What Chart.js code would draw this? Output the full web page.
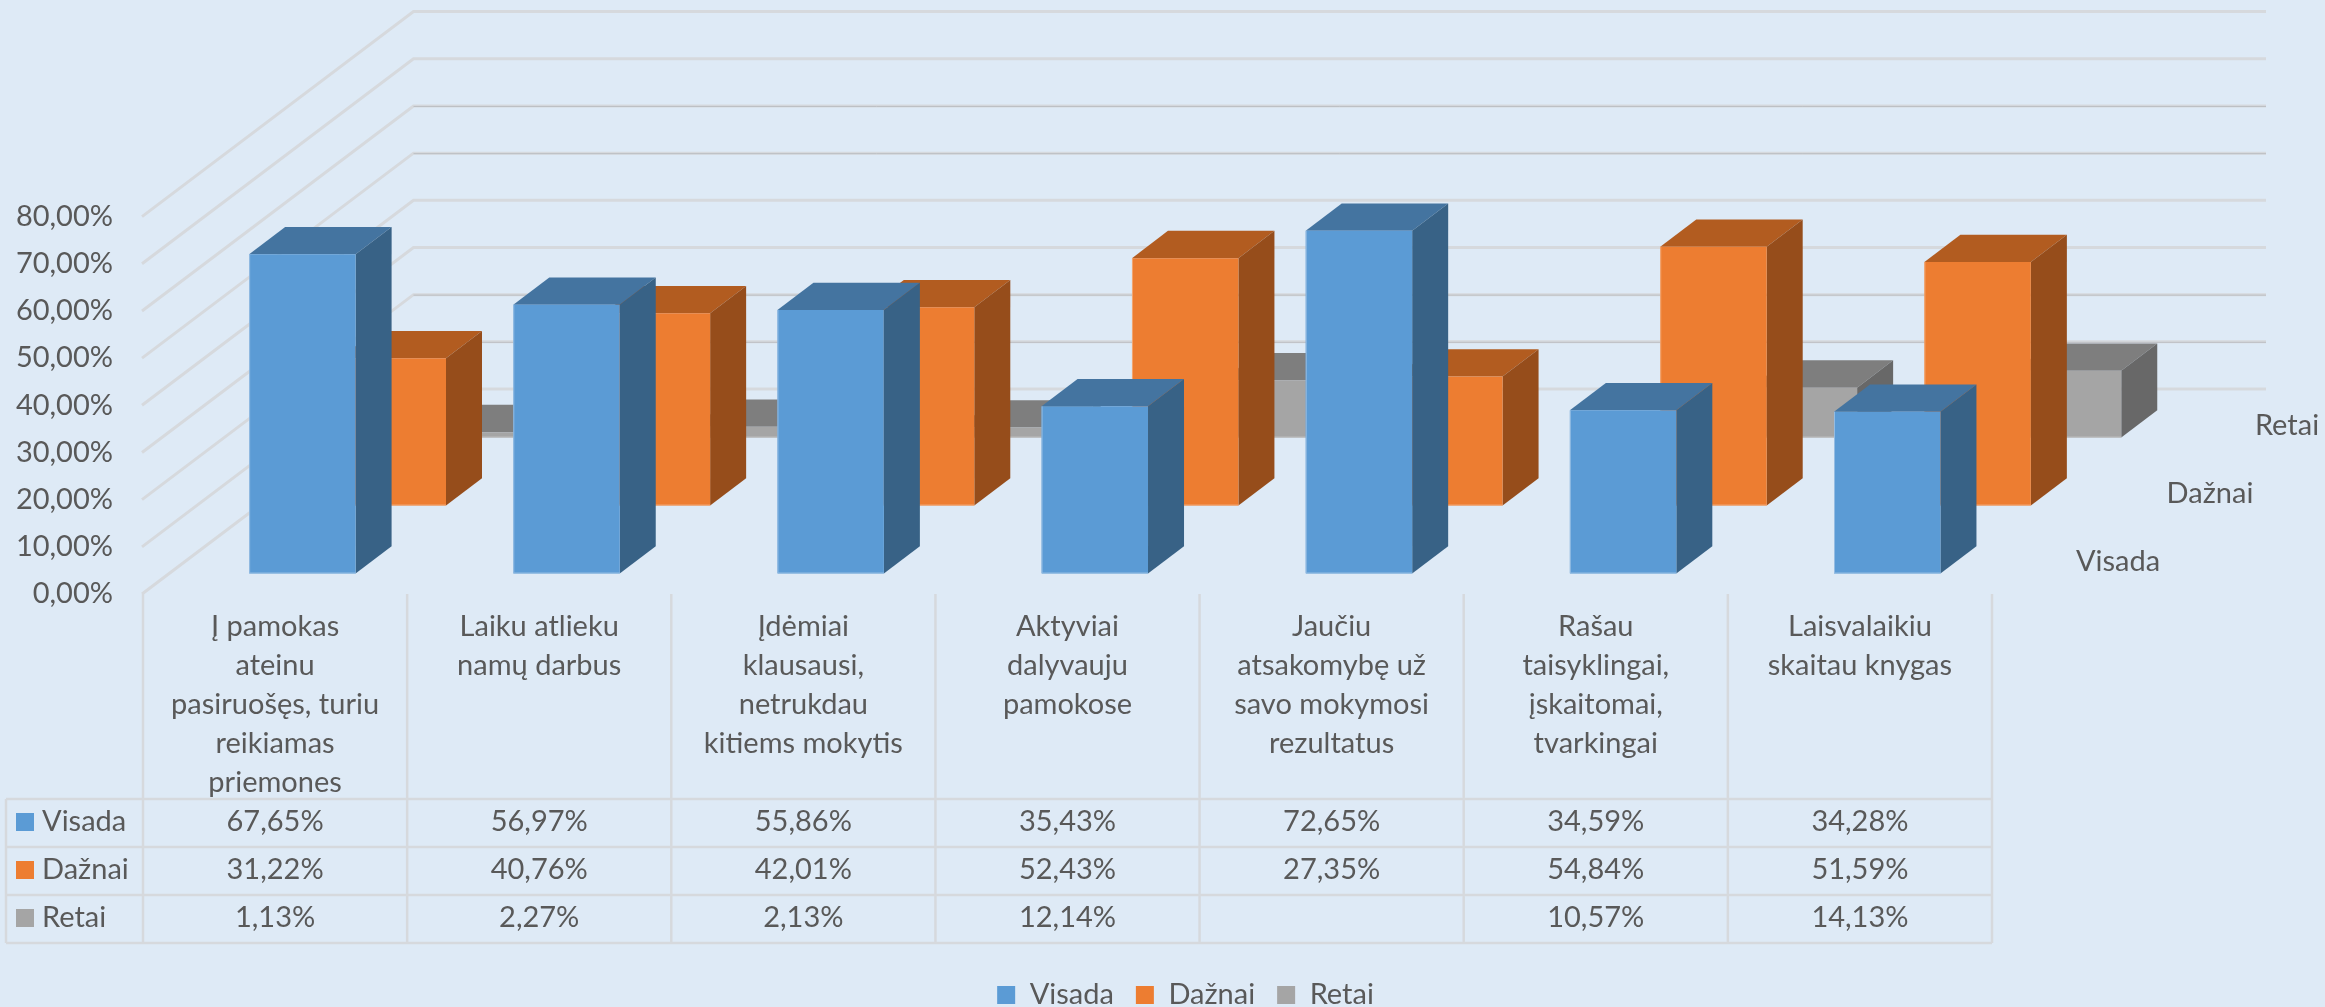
<!DOCTYPE html>
<html lang="lt">
<head>
<meta charset="utf-8">
<title>3D stulpelinė diagrama</title>
<style>
  html, body { margin: 0; padding: 0; background: #deeaf6; }
  canvas { display: block; }
</style>
</head>
<body>
<canvas id="grafikas" width="2325" height="1007"></canvas>
<script src="https://cdn.jsdelivr.net/npm/chart.js@4"></script>
<script>
// Duomenys
const kategorijos = [
  ["Į pamokas", "ateinu", "pasiruošęs, turiu", "reikiamas", "priemones"],
  ["Laiku atlieku", "namų darbus"],
  ["Įdėmiai", "klausausi,", "netrukdau", "kitiems mokytis"],
  ["Aktyviai", "dalyvauju", "pamokose"],
  ["Jaučiu", "atsakomybę už", "savo mokymosi", "rezultatus"],
  ["Rašau", "taisyklingai,", "įskaitomai,", "tvarkingai"],
  ["Laisvalaikiu", "skaitau knygas"]
];
const visada = [67.65, 56.97, 55.86, 35.43, 72.65, 34.59, 34.28];
const daznai = [31.22, 40.76, 42.01, 52.43, 27.35, 54.84, 51.59];
const retai = [1.13, 2.27, 2.13, 12.14, null, 10.57, 14.13];

const serijos = ["Visada", "Dažnai", "Retai"];
const reiksmes = [visada, daznai, retai];

// Spalvos: priekis, viršus, šonas, šviesesnis kraštas
const spalvos = [
  { priekis: "#5b9bd5", virsus: "#4474a0", sonas: "#386286", krastas: "#94bce2" },
  { priekis: "#ed7d31", virsus: "#b25c20", sonas: "#964d1b", krastas: "#f2a672" },
  { priekis: "#a5a5a5", virsus: "#7e7e7e", sonas: "#686868", krastas: "#bcbcbc" }
];

const SRIFTAS = "Lato";
const TEKSTAS = "#595959";
const LINIJA = "#d6d9dd";
// Šios galinės sienos linijos originale atrodo tamsesnės
const tamsesnesLinijos = [60, 50, 20, 10];

function formatuoti(v) {
  return v === null ? "" : v.toFixed(2).replace(".", ",") + "%";
}

// 3D stulpeliai: kiekviena serija pastumiama į gylį, priekį piešia pats Chart.js
const gylis = { dx: 36, dy: 27.3 };
function poslinkis(i) {
  return { x: 27.3 + 90.4 * i, y: 20.5 + 68 * i };
}

const stulpeliai3d = {
  id: "stulpeliai3d",
  beforeDatasetDraw(chart, args) {
    const ctx = chart.ctx;
    const p = poslinkis(args.index);
    const sp = spalvos[args.index];
    ctx.save();
    ctx.translate(p.x, -p.y);
    args.meta.data.forEach((el, i) => {
      if (reiksmes[args.index][i] === null) return;
      const kaire = el.x - el.width / 2;
      const desine = el.x + el.width / 2;
      // viršus
      ctx.fillStyle = sp.virsus;
      ctx.beginPath();
      ctx.moveTo(kaire, el.y);
      ctx.lineTo(kaire + gylis.dx, el.y - gylis.dy);
      ctx.lineTo(desine + gylis.dx, el.y - gylis.dy);
      ctx.lineTo(desine, el.y);
      ctx.closePath();
      ctx.fill();
      // šonas
      ctx.fillStyle = sp.sonas;
      ctx.beginPath();
      ctx.moveTo(desine, el.y);
      ctx.lineTo(desine + gylis.dx, el.y - gylis.dy);
      ctx.lineTo(desine + gylis.dx, el.base - gylis.dy);
      ctx.lineTo(desine, el.base);
      ctx.closePath();
      ctx.fill();
    });
  },
  afterDatasetDraw(chart, args) {
    const ctx = chart.ctx;
    // plonas šviesus kraštas kairėje ir apačioje
    ctx.strokeStyle = spalvos[args.index].krastas;
    ctx.lineWidth = 1;
    args.meta.data.forEach((el, i) => {
      if (reiksmes[args.index][i] === null) return;
      const kaire = el.x - el.width / 2;
      ctx.beginPath();
      ctx.moveTo(kaire + 0.5, el.y);
      ctx.lineTo(kaire + 0.5, el.base - 0.5);
      ctx.lineTo(kaire + el.width, el.base - 0.5);
      ctx.stroke();
    });
    ctx.restore();
  }
};

// Galinė siena ir šoninės linijos
const sienos = {
  id: "sienos",
  beforeDatasetsDraw(chart) {
    const ctx = chart.ctx;
    const y = chart.scales.y;
    const kaire = chart.chartArea.left - 1;
    const galas = { dx: 271.5, dy: 205, desine: 2266 };
    ctx.save();
    y.ticks.forEach(t => {
      const py = y.getPixelForValue(t.value);
      ctx.strokeStyle = LINIJA;
      ctx.lineWidth = 3;
      ctx.beginPath();
      ctx.moveTo(kaire, py);
      ctx.lineTo(kaire + galas.dx, py - galas.dy);
      ctx.lineTo(galas.desine, py - galas.dy);
      ctx.stroke();
      if (tamsesnesLinijos.includes(t.value)) {
        ctx.strokeStyle = "#bcbfc3";
        ctx.lineWidth = 1;
        ctx.beginPath();
        ctx.moveTo(kaire + galas.dx, py - galas.dy + 0.5);
        ctx.lineTo(galas.desine, py - galas.dy + 0.5);
        ctx.stroke();
      }
    });
    ctx.restore();
  }
};

// Duomenų lentelė po grafiku ir gylio ašies užrašai
const lentele = {
  id: "lentele",
  afterDraw(chart) {
    const ctx = chart.ctx;
    const x = chart.scales.x;
    const plotis = x.getPixelForValue(1) - x.getPixelForValue(0);
    const krastai = kategorijos.map((_, i) => x.getPixelForValue(i) - plotis / 2);
    krastai.push(krastai[krastai.length - 1] + plotis);
    const virsus = 594, eilVirsus = 799, eilAukstis = 48, lentKaire = 6;
    const apacia = eilVirsus + eilAukstis * serijos.length;

    ctx.save();
    ctx.strokeStyle = LINIJA;
    ctx.lineWidth = 2.5;
    krastai.forEach(kx => {
      ctx.beginPath();
      ctx.moveTo(kx, virsus);
      ctx.lineTo(kx, apacia);
      ctx.stroke();
    });
    ctx.beginPath();
    ctx.moveTo(lentKaire, eilVirsus);
    ctx.lineTo(lentKaire, apacia);
    ctx.stroke();
    for (let r = 0; r <= serijos.length; r++) {
      ctx.beginPath();
      ctx.moveTo(lentKaire, eilVirsus + r * eilAukstis);
      ctx.lineTo(krastai[krastai.length - 1], eilVirsus + r * eilAukstis);
      ctx.stroke();
    }

    ctx.font = "29px " + SRIFTAS;
    ctx.fillStyle = TEKSTAS;
    ctx.textBaseline = "middle";
    serijos.forEach((pav, r) => {
      const cy = eilVirsus + r * eilAukstis + eilAukstis / 2 - 1;
      ctx.fillStyle = spalvos[r].priekis;
      ctx.fillRect(16, cy - 9, 18, 18);
      ctx.fillStyle = TEKSTAS;
      ctx.textAlign = "left";
      ctx.fillText(pav, 42, cy);
      ctx.textAlign = "center";
      reiksmes[r].forEach((v, i) => {
        ctx.fillText(formatuoti(v), x.getPixelForValue(i), cy);
      });
    });

    // Gylio ašis
    const gylioX = [2118, 2210, 2287];
    const gylioY = [562, 494, 426];
    serijos.forEach((pav, r) => ctx.fillText(pav, gylioX[r], gylioY[r]));
    ctx.restore();
  }
};

// Legenda stumiama į savo vietą po išdėstymo
const legendosVieta = {
  id: "legendosVieta",
  afterLayout(chart) {
    const l = chart.legend;
    const h = l.height;
    l.left += 189.5;
    l.right += 189.5;
    l.top = 989 - h / 2;
    l.bottom = l.top + h;
  }
};

new Chart(document.getElementById("grafikas"), {
  type: "bar",
  data: {
    labels: kategorijos,
    datasets: serijos.map((pav, i) => ({
      label: pav,
      data: reiksmes[i],
      backgroundColor: spalvos[i].priekis,
      borderWidth: 0,
      grouped: false,
      clip: false,
      barPercentage: 1,
      categoryPercentage: 0.403
    }))
  },
  options: {
    responsive: false,
    animation: false,
    events: [],
    layout: { padding: { top: 216.6, right: 333, bottom: 0, left: 0 } },
    scales: {
      x: {
        grid: { display: false, drawTicks: false },
        border: { display: false },
        ticks: {
          color: TEKSTAS,
          font: { family: SRIFTAS, size: 29, lineHeight: "39px" },
          autoSkip: false,
          maxRotation: 0,
          minRotation: 0,
          padding: 13
        },
        afterFit(scale) {
          scale.height = 413 - scale.chart.legend.height;
        }
      },
      y: {
        min: 0,
        max: 80,
        grid: { display: false, drawTicks: false },
        border: { display: false },
        ticks: {
          stepSize: 10,
          color: TEKSTAS,
          font: { family: SRIFTAS, size: 29 },
          padding: 30,
          callback: v => formatuoti(v)
        },
        afterFit(scale) {
          scale.width = 143;
        }
      }
    },
    plugins: {
      tooltip: { enabled: false },
      legend: {
        position: "bottom",
        labels: {
          color: TEKSTAS,
          font: { family: SRIFTAS, size: 29 },
          boxWidth: 18,
          boxHeight: 18,
          padding: 22
        }
      }
    }
  },
  plugins: [sienos, stulpeliai3d, lentele, legendosVieta]
});
</script>
</body>
</html>
